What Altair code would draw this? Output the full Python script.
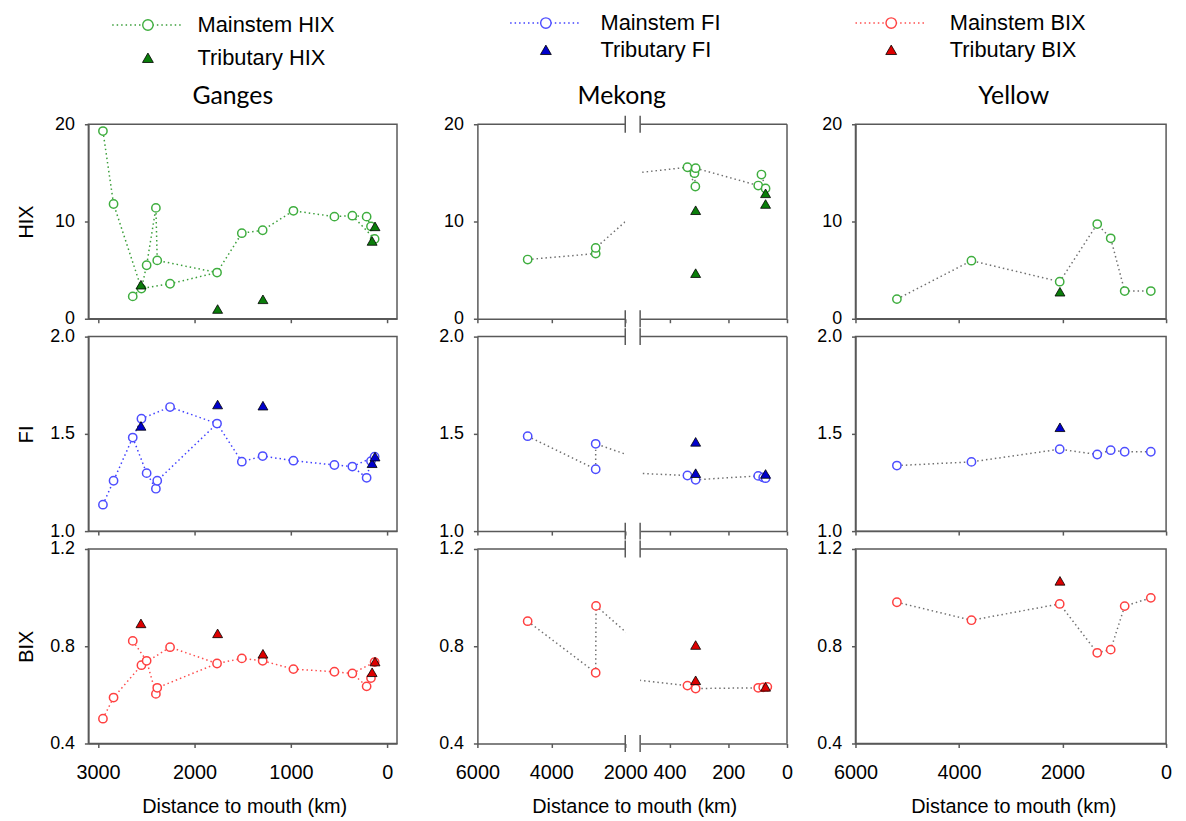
import altair as alt
import pandas as pd

# ------------------------------------------------------------------ data
# Ganges mainstem stations (distance to mouth, km) and indices
G_DIST = [2949, 2839, 2640, 2550, 2496, 2400, 2386, 2253, 1766, 1509, 1293, 974, 549, 363, 215, 170, 132]
G_HIX = [19.3, 11.8, 2.3, 3.1, 5.5, 11.4, 6.0, 3.6, 4.75, 8.8, 9.1, 11.1, 10.5, 10.6, 10.5, 9.5, 8.2]
G_FI = [1.136, 1.259, 1.481, 1.578, 1.298, 1.218, 1.259, 1.638, 1.553, 1.357, 1.386, 1.362, 1.340, 1.332, 1.274, 1.36, 1.383]
G_BIX = [0.502, 0.589, 0.822, 0.722, 0.740, 0.604, 0.629, 0.796, 0.729, 0.750, 0.740, 0.706, 0.695, 0.688, 0.635, 0.669, 0.735]
G_PATHS_HIX = [[0, 1, 3, 4, 5, 6, 8, 9, 10, 11, 12, 13, 14, 15], [2, 3, 7, 8], [13, 16]]
G_PATHS_FI = [[0, 1, 2, 3, 7, 8, 9, 10, 11, 12, 13, 14, 15], [2, 4, 5, 6, 8], [13, 16]]
G_PATHS_BIX = [[0, 1, 3, 7, 8, 9, 10, 11, 12, 13, 14, 15], [2, 4, 5, 6, 8], [13, 16]]
# Ganges tributaries
G_TRIB_DIST = [2555, 1760, 1290, 158, 128]
G_TRIB_HIX = [3.5, 1.0, 2.0, 8.0, 9.5]
G_TRIB_FI = [1.541, 1.651, 1.645, 1.349, 1.383]
G_TRIB_BIX = [0.894, 0.853, 0.769, 0.693, 0.737]

# Mekong mainstem (listed in path order)
M_DIST_HIX = [4640, 2800, 2800, 339, 312, 315, 311, 98, 73, 87]
M_HIX = [6.09, 6.70, 7.28, 15.58, 13.6, 14.97, 15.48, 13.7, 13.4, 14.83]
M_DIST_FI = [4640, 2800, 2800, 339, 311, 98, 81, 73]
M_FI = [1.488, 1.318, 1.449, 1.286, 1.264, 1.284, 1.276, 1.272]
M_DIST_BIX = [4640, 2800, 2790, 339, 311, 98, 81, 67]
M_BIX = [0.903, 0.691, 0.966, 0.638, 0.626, 0.629, 0.631, 0.633]
# Mekong tributaries
M_TRIB_DIST_HIX = [311, 311, 73, 73]
M_TRIB_HIX = [11.16, 4.69, 12.9, 11.8]
M_TRIB_DIST = [311, 311, 73]
M_TRIB_FI = [1.459, 1.298, 1.294]
M_TRIB_BIX = [0.805, 0.660, 0.633]

# Yellow mainstem
Y_DIST = [5200, 3760, 2055, 1330, 1070, 800, 295]
Y_HIX = [2.02, 5.97, 3.81, 9.74, 8.27, 2.85, 2.85]
Y_FI = [1.337, 1.356, 1.421, 1.394, 1.416, 1.408, 1.408]
Y_BIX = [0.981, 0.907, 0.974, 0.773, 0.786, 0.965, 0.999]
# Yellow tributary
Y_TRIB_DIST = [2050]
Y_TRIB_HIX = [2.78]
Y_TRIB_FI = [1.534]
Y_TRIB_BIX = [1.069]

LEGEND_LABELS = {
    "HIX": ["Mainstem HIX", "Tributary HIX"],
    "FI": ["Mainstem FI", "Tributary FI"],
    "BIX": ["Mainstem BIX", "Tributary BIX"],
}

# ------------------------------------------------------------------ style
FRAME = "#595959"
AXFONT = "Liberation Sans"
TITLEFONT = "Lato"
ROW_H = 196
LEG_H = 96
W_G, W_SP1, W_ML, W_MR, W_SP2, W_Y = 311, 51, 149, 148, 39, 313

INDEX = {
    "HIX": dict(domain=[0, 20], ticks=[0, 10, 20], fmt="d",
                circ="#3fae3f", line="#3a9e3a", tri="#0a7d0a"),
    "FI": dict(domain=[1.0, 2.0], ticks=[1.0, 1.5, 2.0], fmt=".1f",
               circ="#4d4dff", line="#4040ff", tri="#0000cc"),
    "BIX": dict(domain=[0.4, 1.2], ticks=[0.4, 0.8, 1.2], fmt=".1f",
                circ="#ff4040", line="#ff4d4d", tri="#dd0000"),
}

PART = {
    "G": dict(domain=[-100, 3100], ticks=[0, 1000, 2000, 3000], width=W_G, title_x=157),
    "ML": dict(domain=[2000, 6000], ticks=[2000, 4000, 6000], width=W_ML, title_x=158),
    "MR": dict(domain=[0, 500], ticks=[0, 200, 400], width=W_MR, title_x=74),
    "Y": dict(domain=[0, 6000], ticks=[0, 2000, 4000, 6000], width=W_Y, title_x=159),
}


def path_frame(dist, vals, paths):
    rows = []
    for p, idxs in enumerate(paths):
        for k, i in enumerate(idxs):
            rows.append({"dist": dist[i], "val": vals[i], "path": p, "ord": k})
    return pd.DataFrame(rows)


def panel(part, idx, dist, vals, paths, tdist, tvals, bottom, line_color,
          y_title=False, title=None):
    s = INDEX[idx]
    pt = PART[part]
    clip = part in ("ML", "MR")
    xscale = alt.Scale(domain=pt["domain"], reverse=True, nice=False, zero=False)
    yscale = alt.Scale(domain=s["domain"], nice=False, zero=False)

    xa = dict(values=pt["ticks"], format="d", grid=False,
              tickSize=4, tickWidth=1.5, tickColor=FRAME,
              domain=True, domainColor=FRAME, domainWidth=1.5,
              labels=bottom, labelFont=AXFONT, labelFontSize=20, labelColor="black",
              labelPadding=31, labelBaseline="alphabetic",
              labelFlush=False, labelOverlap=False)
    if bottom and part != "MR":
        xa.update(title="Distance to mouth (km)", titleFont=AXFONT, titleFontSize=20,
                  titleFontWeight="normal", titleColor="black",
                  titleBaseline="alphabetic", titleAlign="center",
                  titleX=pt["title_x"], titleY=70)
    else:
        xa.update(title=None)
    X = alt.X("dist:Q", scale=xscale, axis=alt.Axis(**xa))

    if part == "MR":
        Y = alt.Y("val:Q", scale=yscale, axis=None)
    else:
        ya = dict(values=s["ticks"], format=s["fmt"], grid=False,
                  tickSize=4, tickWidth=1.5, tickColor=FRAME,
                  domain=True, domainColor=FRAME, domainWidth=1.5,
                  labelFont=AXFONT, labelFontSize=18, labelColor="black",
                  labelPadding=10)
        if y_title:
            ya.update(title=idx, titleFont=AXFONT, titleFontSize=20,
                      titleFontWeight="normal", titleColor="black",
                      titleAngle=270, titleX=-62, titleY=ROW_H / 2,
                      titleAlign="center", titleBaseline="middle")
        else:
            ya.update(title=None)
        Y = alt.Y("val:Q", scale=yscale, axis=alt.Axis(**ya))

    pdf = path_frame(dist, vals, paths)
    mdf = pd.DataFrame({"dist": dist, "val": vals})
    tdf = pd.DataFrame({"dist": tdist, "val": tvals})

    lines = alt.Chart(pdf).mark_line(
        color=line_color, strokeDash=[1.5, 3], strokeWidth=1.5, clip=clip
    ).encode(x=X, y=Y, detail="path:N", order="ord:Q")
    circles = alt.Chart(mdf).mark_point(
        shape="circle", filled=True, fill="white", stroke=s["circ"],
        strokeWidth=1.5, size=70, opacity=1, clip=clip
    ).encode(x=X, y=Y)
    tris = alt.Chart(tdf).mark_point(
        shape="triangle-up", filled=True, fill=s["tri"], stroke="black",
        strokeWidth=0.8, size=100, opacity=1, clip=clip
    ).encode(x=X, y=Y)
    layers = [lines, circles, tris]

    ymin, ymax = s["domain"]
    if part == "ML":
        top = pd.DataFrame({"dist": [6000], "dist2": [2000], "val": [ymax]})
        brk = pd.DataFrame({"dist": [2000, 2000], "val": [ymin, ymax]})
        layers.append(alt.Chart(top).mark_rule(color=FRAME, strokeWidth=1.5)
                      .encode(x=X, x2="dist2:Q", y=Y))
        layers.append(alt.Chart(brk).mark_tick(orient="vertical", size=17, thickness=1.5,
                                               color=FRAME, opacity=1)
                      .encode(x=X, y=Y))
    if part == "MR":
        top = pd.DataFrame({"dist": [500], "dist2": [0], "val": [ymax]})
        right = pd.DataFrame({"dist": [0], "val": [ymin], "val2": [ymax]})
        brk = pd.DataFrame({"dist": [500, 500], "val": [ymin, ymax]})
        layers.append(alt.Chart(top).mark_rule(color=FRAME, strokeWidth=1.5)
                      .encode(x=X, x2="dist2:Q", y=Y))
        layers.append(alt.Chart(right).mark_rule(color=FRAME, strokeWidth=1.5)
                      .encode(x=X, y=Y, y2="val2:Q"))
        layers.append(alt.Chart(brk).mark_tick(orient="vertical", size=17, thickness=1.5,
                                               color=FRAME, opacity=1)
                      .encode(x=X, y=Y))

    if clip:
        view = alt.ViewBackground(strokeOpacity=0)
    else:
        view = alt.ViewBackground(stroke=FRAME, strokeWidth=1.5)

    props = dict(width=pt["width"], height=ROW_H, view=view)
    if title is not None:
        props["title"] = title
    return alt.layer(*layers).properties(**props)


def spacer(w, h):
    return alt.Chart(pd.DataFrame({"v": [0]})).mark_point(opacity=0).encode(
        x=alt.X("v:Q", axis=None), y=alt.Y("v:Q", axis=None)
    ).properties(width=w, height=h, view=alt.ViewBackground(strokeOpacity=0))


def legend(idx, width, sym_x, text_x, rows_y):
    s = INDEX[idx]
    df = pd.DataFrame({"row": [0, 1], "label": LEGEND_LABELS[idx]})
    Yl = alt.Y("row:Q", scale=alt.Scale(domain=[0, 1], range=rows_y), axis=None)
    base = alt.Chart(df)
    ln = base.transform_filter("datum.row == 0").mark_rule(
        color=s["line"], strokeDash=[1.5, 3], strokeWidth=1.5
    ).encode(x=alt.value(sym_x - 36), x2=alt.value(sym_x + 36), y=Yl)
    ci = base.transform_filter("datum.row == 0").mark_point(
        shape="circle", filled=True, fill="white", stroke=s["circ"],
        strokeWidth=1.4, size=110, opacity=1
    ).encode(x=alt.value(sym_x), y=Yl)
    tr = base.transform_filter("datum.row == 1").mark_point(
        shape="triangle-up", filled=True, fill=s["tri"], stroke="black",
        strokeWidth=0.8, size=120, opacity=1
    ).encode(x=alt.value(sym_x), y=Yl)
    tx = base.mark_text(align="left", baseline="middle", font=AXFONT,
                        fontSize=22, color="black").encode(
        x=alt.value(text_x), y=Yl, text="label:N")
    return alt.layer(ln, ci, tr, tx).properties(
        width=width, height=LEG_H, view=alt.ViewBackground(strokeOpacity=0))


def river_title(text, dx):
    return alt.TitleParams(text=text, font=TITLEFONT, fontSize=25, fontWeight="normal",
                           color="black", anchor="middle", frame="group",
                           baseline="alphabetic", offset=20, dx=dx, dy=34)


GRAY = "#707070"
cells = [
    legend("HIX", W_G, 60, 110, [14, 47]),
    spacer(W_SP1, LEG_H),
    legend("FI", W_ML, 69, 124, [12, 39]),
    spacer(W_MR, LEG_H),
    spacer(W_SP2, LEG_H),
    legend("BIX", W_Y, 36, 95, [12, 39]),
]

rows = [
    ("HIX", G_HIX, G_PATHS_HIX, G_TRIB_HIX, M_DIST_HIX, M_HIX, M_TRIB_DIST_HIX, M_TRIB_HIX, Y_HIX, Y_TRIB_HIX),
    ("FI", G_FI, G_PATHS_FI, G_TRIB_FI, M_DIST_FI, M_FI, M_TRIB_DIST, M_TRIB_FI, Y_FI, Y_TRIB_FI),
    ("BIX", G_BIX, G_PATHS_BIX, G_TRIB_BIX, M_DIST_BIX, M_BIX, M_TRIB_DIST, M_TRIB_BIX, Y_BIX, Y_TRIB_BIX),
]

for r, (idx, gv, gp, gt, mdist, mv, mtd, mtv, yv, ytv) in enumerate(rows):
    first = r == 0
    bottom = r == 2
    s = INDEX[idx]
    mpaths = [list(range(len(mdist)))]
    ypaths = [list(range(len(Y_DIST)))]
    cells.append(panel("G", idx, G_DIST, gv, gp, G_TRIB_DIST, gt, bottom, s["line"],
                       y_title=True, title=river_title("Ganges", -10) if first else None))
    cells.append(spacer(W_SP1, ROW_H))
    cells.append(panel("ML", idx, mdist, mv, mpaths, mtd, mtv, bottom, GRAY,
                       title=river_title("Mekong", 71) if first else None))
    cells.append(panel("MR", idx, mdist, mv, mpaths, mtd, mtv, bottom, GRAY))
    cells.append(spacer(W_SP2, ROW_H))
    cells.append(panel("Y", idx, Y_DIST, yv, ypaths, Y_TRIB_DIST, ytv, bottom, GRAY,
                       title=river_title("Yellow", 3) if first else None))

chart = alt.concat(
    *cells, columns=6, spacing={"row": 18, "column": 15}, bounds="flush"
).properties(
    padding={"left": 8, "top": 0, "right": 5, "bottom": 5}
).configure(background="white")

chart.save("out.html", embed_options={"renderer": "svg", "actions": False})
